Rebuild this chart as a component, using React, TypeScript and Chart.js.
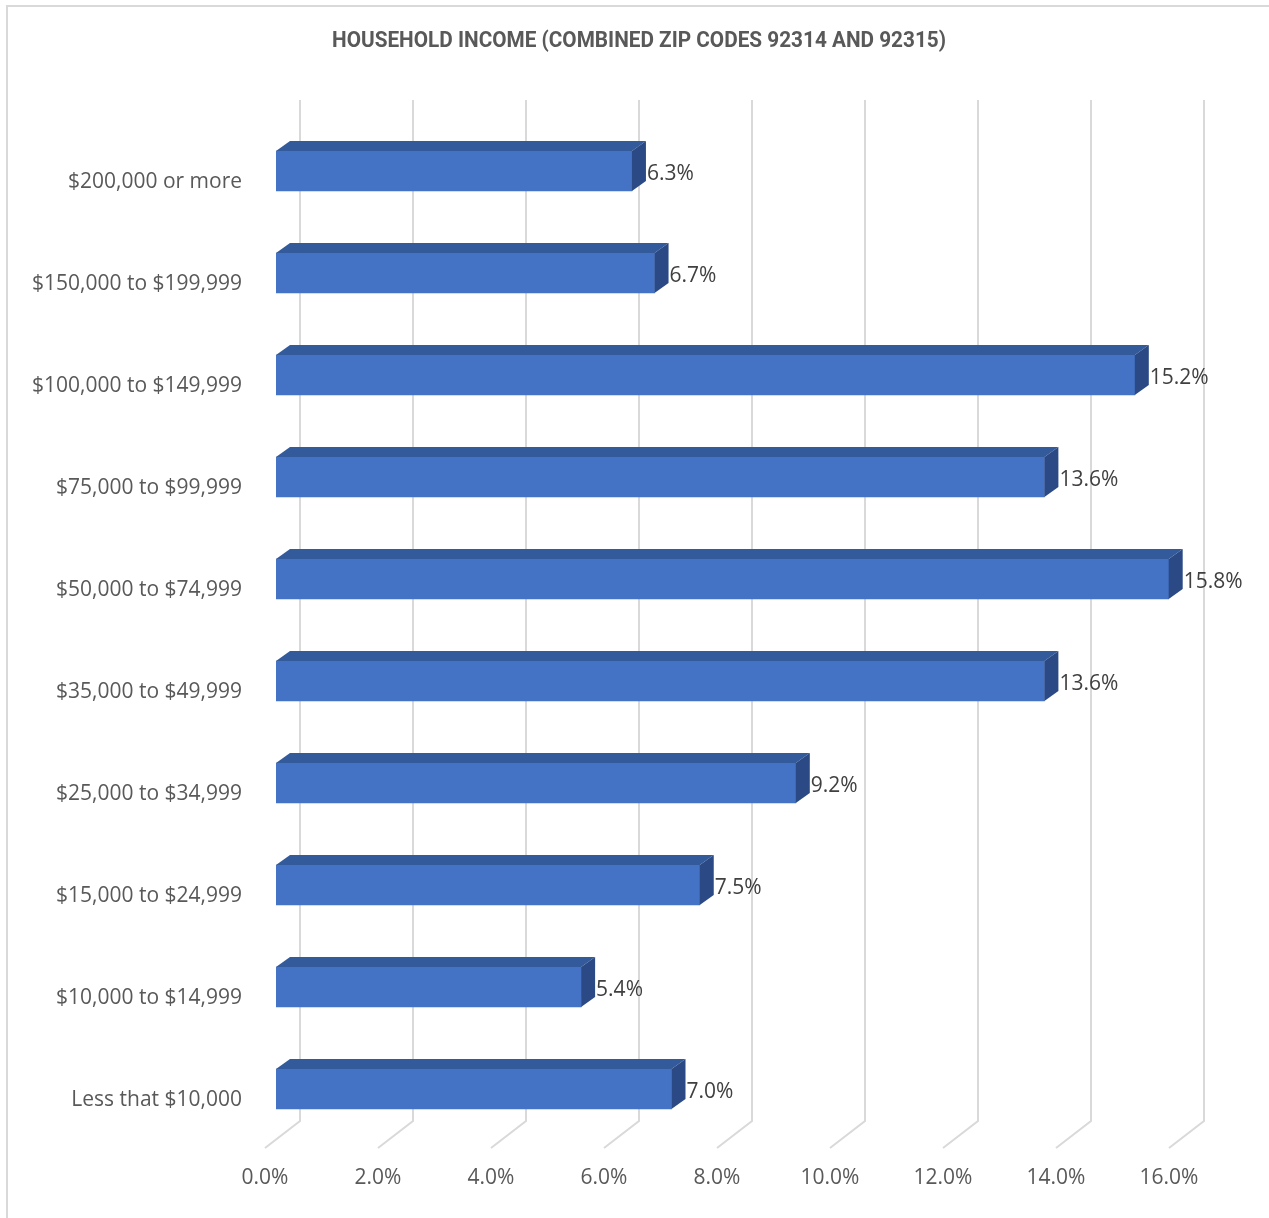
import React, { useEffect, useRef } from "react";
import { Chart, registerables } from "chart.js";

Chart.register(...registerables);

const categories = [
  "$200,000 or more",
  "$150,000 to $199,999",
  "$100,000 to $149,999",
  "$75,000 to $99,999",
  "$50,000 to $74,999",
  "$35,000 to $49,999",
  "$25,000 to $34,999",
  "$15,000 to $24,999",
  "$10,000 to $14,999",
  "Less that $10,000",
];
const values = [6.3, 6.7, 15.2, 13.6, 15.8, 13.6, 9.2, 7.5, 5.4, 7.0];
const xTicks = [0, 2, 4, 6, 8, 10, 12, 14, 16];
const title = "HOUSEHOLD INCOME (COMBINED ZIP CODES 92314 AND 92315)";

const DX = 14;
const DY = 10;
const WALL = 24;

const threeD = {
  id: "threeD",
  beforeDatasetsDraw(chart: any) {
    const ctx = chart.ctx;
    const xs = chart.scales.x;
    ctx.save();
    ctx.strokeStyle = "#d9d9d9";
    ctx.lineWidth = 2;
    for (const v of xTicks) {
      const px = xs.getPixelForValue(v) + WALL;
      ctx.beginPath();
      ctx.moveTo(px, 100);
      ctx.lineTo(px, 1121);
      ctx.lineTo(px - 35, 1148);
      ctx.stroke();
    }
    ctx.restore();
  },
  afterDatasetsDraw(chart: any) {
    const ctx = chart.ctx;
    const meta = chart.getDatasetMeta(0);
    ctx.save();
    meta.data.forEach((bar: any, i: number) => {
      const { x, y, base, height } = bar.getProps(["x", "y", "base", "height"], true);
      const top = y - height / 2;
      const bottom = y + height / 2;
      ctx.fillStyle = "#335a9a";
      ctx.beginPath();
      ctx.moveTo(base, top);
      ctx.lineTo(base + DX, top - DY);
      ctx.lineTo(x + DX, top - DY);
      ctx.lineTo(x, top);
      ctx.closePath();
      ctx.fill();
      ctx.fillStyle = "#2b4a85";
      ctx.beginPath();
      ctx.moveTo(x, top);
      ctx.lineTo(x + DX, top - DY);
      ctx.lineTo(x + DX, bottom - DY);
      ctx.lineTo(x, bottom);
      ctx.closePath();
      ctx.fill();
      ctx.fillStyle = "#404040";
      ctx.font = "21px 'Open Sans'";
      ctx.textAlign = "left";
      ctx.textBaseline = "middle";
      ctx.fillText(values[i].toFixed(1) + "%", x + DX + 1, y + 3);
    });
    // title, condensed horizontally
    ctx.font = "bold 22px Roboto";
    ctx.fillStyle = "#595959";
    ctx.textAlign = "center";
    ctx.textBaseline = "middle";
    const w = ctx.measureText(title).width;
    const sx = 614 / w;
    ctx.translate(639, 41);
    ctx.scale(sx, 1);
    ctx.fillText(title, 0, 0);
    ctx.restore();
  },
};

export default function App() {
  const ref = useRef<HTMLCanvasElement>(null);
  useEffect(() => {
    const chart = new Chart(ref.current!, {
      type: "bar",
      data: {
        labels: categories,
        datasets: [
          {
            data: values,
            backgroundColor: "#4472c4",
            borderWidth: 0,
            barThickness: 40,
          },
        ],
      },
      options: {
        indexAxis: "y",
        animation: false,
        responsive: false,
        layout: { padding: { left: 0, right: 89, top: 120, bottom: 0 } },
        plugins: {
          legend: { display: false },
          tooltip: { enabled: false },
          title: { display: false },
        },
        scales: {
          x: {
            min: 0,
            max: 16,
            grid: { display: false, drawTicks: false },
            border: { display: false },
            afterFit(s: any) {
              s.height = 78;
            },
            afterBuildTicks(s: any) {
              s.ticks = xTicks.map((v) => ({ value: v }));
            },
            ticks: {
              color: "#595959",
              font: { family: "'Open Sans'", size: 21 },
              padding: 25,
              labelOffset: -11,
              maxRotation: 0,
              callback: (v: any) => Number(v).toFixed(1) + "%",
            },
          },
          y: {
            grid: { display: false, drawTicks: false },
            border: { display: false },
            afterFit(s: any) {
              s.width = 276;
            },
            ticks: {
              color: "#595959",
              font: { family: "'Open Sans'", size: 21 },
              padding: 34,
              labelOffset: 11,
            },
          },
        },
      },
      plugins: [threeD],
    });
    return () => chart.destroy();
  }, []);
  return (
    <div style={{ position: "absolute", left: 0, top: 0, width: 1269, height: 1218, background: "#fff" }}>
      <div
        style={{
          position: "absolute",
          left: 6,
          top: 5,
          width: 1300,
          height: 1300,
          borderLeft: "2px solid #d9d9d9",
          borderTop: "2px solid #d9d9d9",
        }}
      />
      <canvas ref={ref} width={1269} height={1218} style={{ position: "absolute", left: 0, top: 0 }} />
    </div>
  );
}
